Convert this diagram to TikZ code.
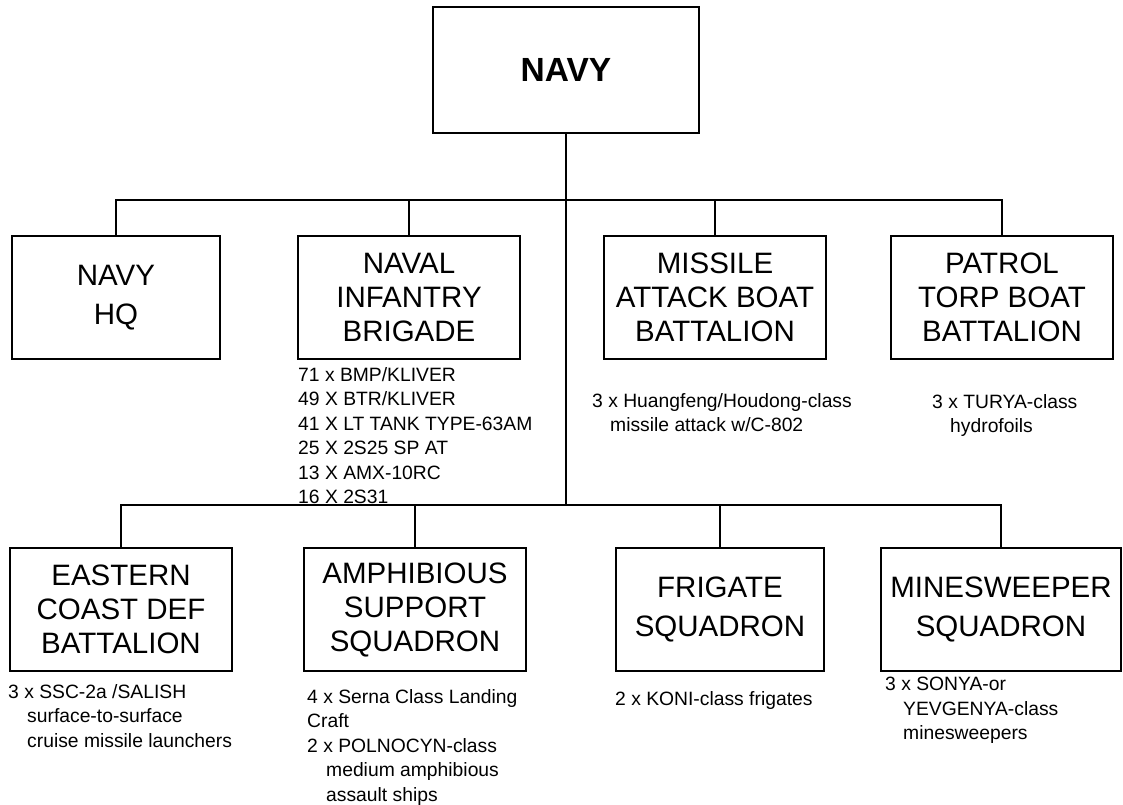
\documentclass[tikz,border=0pt]{standalone}
\usepackage{fontspec}
\setmainfont{Liberation Sans}
\usetikzlibrary{positioning}
\newcommand{\unitfont}{\fontsize{29.5}{34}\selectfont}
\newcommand{\unitfontwide}{\fontsize{29.5}{39}\selectfont}
\newcommand{\eqfont}{\fontsize{19.3}{24.5}\selectfont}
\tikzset{
  topbox/.style={draw, line width=1.5pt, minimum width=266pt, minimum height=126pt,
                 font=\fontsize{33.5}{40}\selectfont\bfseries, inner sep=0pt},
  unitbox/.style={draw, line width=1.5pt, minimum height=123pt, align=center,
                  inner sep=0pt, font=\unitfont},
  eqlist/.style={anchor=north west, align=left, inner sep=0pt, font=\eqfont},
  link/.style={line width=1.5pt},
}
\begin{document}
\begin{tikzpicture}[x=1pt, y=-1pt]
  \useasboundingbox (0,0) rectangle (1123,804);

  %% Command
  \node[topbox] (navy) at (566,70) {NAVY};
  \coordinate (tbus) at (566,200);
  \coordinate (bbus) at (566,505);

  %% Upper row of units
  \node[unitbox, minimum width=208pt, font=\unitfontwide] (hq) at (116,297.5) {NAVY\\HQ};
  \node[unitbox, minimum width=222pt] (nib) at (409,297.5) {NAVAL\\INFANTRY\\BRIGADE};
  \node[unitbox, minimum width=222pt] (mab) at (715,297.5) {MISSILE\\ATTACK BOAT\\BATTALION};
  \node[unitbox, minimum width=222pt] (ptb) at (1002,297.5) {PATROL\\TORP BOAT\\BATTALION};

  %% Lower row of units
  \node[unitbox, minimum width=222pt] (ecd) at (121,609.5) {EASTERN\\COAST DEF\\BATTALION};
  \node[unitbox, minimum width=222pt] (assq) at (415,609.5) {AMPHIBIOUS\\SUPPORT\\SQUADRON};
  \node[unitbox, minimum width=208pt, font=\unitfontwide] (frsq) at (720,609.5) {FRIGATE\\SQUADRON};
  \node[unitbox, minimum width=240pt, font=\unitfontwide] (msq) at (1001,609.5) {MINESWEEPER\\SQUADRON};

  %% Connectors
  \draw[link] (navy.south) -- (navy.south |- bbus);
  \draw[link] (hq.north) |- (tbus) -| (ptb.north);
  \draw[link] (nib.north) -- (nib.north |- tbus);
  \draw[link] (mab.north) -- (mab.north |- tbus);
  \draw[link] (ecd.north) |- (bbus) -| (msq.north);
  \draw[link] (assq.north) -- (assq.north |- bbus);
  \draw[link] (frsq.north) -- (frsq.north |- bbus);

  %% Equipment lists
  \node[eqlist] (nibeq) at (298,367)
    {71 x BMP/KLIVER\\49 X BTR/KLIVER\\41 X LT TANK TYPE-63AM\\25 X 2S25 SP AT\\13 X AMX-10RC\\16 X 2S31};
  \node[eqlist] (mabeq) at (592,393)
    {3 x Huangfeng/Houdong-class\\\hspace*{18pt}missile attack w/C-802};
  \node[eqlist] (ptbeq) at (932,394)
    {3 x TURYA-class\\\hspace*{18pt}hydrofoils};
  \node[eqlist] (ecdeq) at (8,684)
    {3 x SSC-2a /SALISH\\\hspace*{19pt}surface-to-surface\\\hspace*{19pt}cruise missile launchers};
  \node[eqlist] (assqeq) at (307,689)
    {4 x Serna Class Landing\\Craft\\2 x POLNOCYN-class\\\hspace*{19pt}medium amphibious\\\hspace*{19pt}assault ships};
  \node[eqlist] (frsqeq) at (615,691) {2 x KONI-class frigates};
  \node[eqlist] (msqeq) at (885,677)
    {3 x SONYA-or\\\hspace*{18pt}YEVGENYA-class\\\hspace*{18pt}minesweepers};
\end{tikzpicture}
\end{document}
